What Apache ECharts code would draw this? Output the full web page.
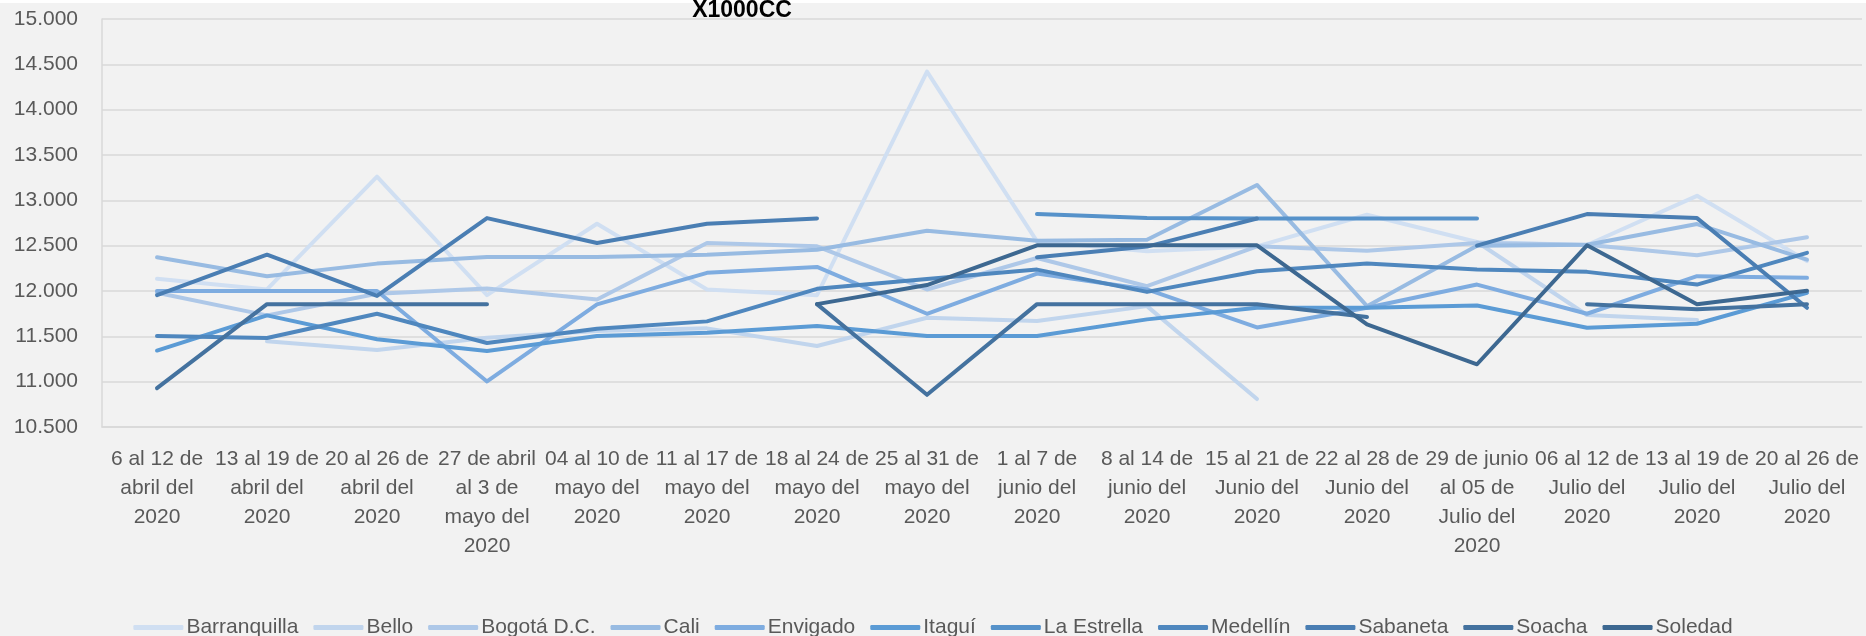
<!DOCTYPE html>
<html>
<head>
<meta charset="utf-8">
<script src="https://cdn.jsdelivr.net/npm/echarts@6/dist/echarts.min.js"></script>
<style>
  html, body { margin: 0; padding: 0; background: #f2f2f2; }
  #chart { width: 1866px; height: 636px; }
</style>
</head>
<body>
<div id="chart"></div>
<script>
// weekly categories (line breaks as in the original labels)
var weeks = [
    '6 al 12 de\nabril del\n2020',
    '13 al 19 de\nabril del\n2020',
    '20 al 26 de\nabril del\n2020',
    '27 de abril\nal 3 de\nmayo del\n2020',
    '04 al 10 de\nmayo del\n2020',
    '11 al 17 de\nmayo del\n2020',
    '18 al 24 de\nmayo del\n2020',
    '25 al 31 de\nmayo del\n2020',
    '1 al 7 de\njunio del\n2020',
    '8 al 14 de\njunio del\n2020',
    '15 al 21 de\nJunio del\n2020',
    '22 al 28 de\nJunio del\n2020',
    '29 de junio\nal 05 de\nJulio del\n2020',
    '06 al 12 de\nJulio del\n2020',
    '13 al 19 de\nJulio del\n2020',
    '20 al 26 de\nJulio del\n2020'
];

var cities = ['Barranquilla', 'Bello', 'Bogotá D.C.', 'Cali', 'Envigado', 'Itaguí',
    'La Estrella', 'Medellín', 'Sabaneta', 'Soacha', 'Soledad'];

var barranquilla = [12134, 12017, 13262, 11954, 12742, 12017, 11954, 14420, 12548, 12438, 12493, 12841, 12540, 12507, 13050, 12330];
var bello        = [null, 11445, 11350, 11485, 11559, 11588, 11394, 11705, 11669, 11833, 10808, null, 12540, 11735, 11680, null];
var bogota       = [11980, 11731, 11969, 12027, 11907, 12529, 12493, 12017, 12364, 12053, 12493, 12445, 12530, 12511, 12394, 12592];
var cali         = [12372, 12163, 12302, 12375, 12375, 12401, 12456, 12665, 12555, 12566, 13170, 11833, 12500, 12511, 12738, 12346];
var envigado     = [12000, 12000, 12000, 11002, 11852, 12200, 12266, 11749, 12192, 12017, 11598, 11815, 12071, 11749, 12163, 12145];
var itagui       = [11343, 11731, 11467, 11339, 11504, 11540, 11613, 11504, 11504, 11687, 11815, 11815, 11840, 11595, 11639, 11980];
var laEstrella   = [null, null, null, null, null, null, null, null, 12848, 12804, 12800, 12800, 12800, null, null, null];
var medellin     = [11504, 11482, 11749, 11427, 11584, 11665, 12024, 12132, 12236, 11990, 12218, 12302, 12236, 12211, 12071, 12420];
var sabaneta     = [11954, 12401, 11945, 12804, 12529, 12742, 12800, null, 12372, 12490, 12800, null, 12500, 12848, 12804, 11815];
var soacha       = [10928, 11855, 11855, 11855, null, null, 11855, 10855, 11855, 11855, 11855, 11713, null, 11855, 11800, 11855];
var soledad      = [null, null, null, null, null, null, 11855, 12066, 12504, 12504, 12504, 11632, 11192, 12504, 11855, 12002];

var allValues = [barranquilla, bello, bogota, cali, envigado, itagui, laEstrella, medellin, sabaneta, soacha, soledad];
var colors = ['#d0dff2', '#c1d5ed', '#aec8e8', '#98bbe2', '#7eace0', '#5b9bd5',
    '#5692ca', '#4f87be', '#4a7eb3', '#44729f', '#3d6891'];

var chart = echarts.init(document.getElementById('chart'));

var series = [];
for (var i = 0; i < cities.length; i++) {
    series.push({
        name: cities[i],
        type: 'line',
        data: allValues[i],
        showSymbol: false,
        connectNulls: false,
        lineStyle: { color: colors[i], width: 4, cap: 'round', join: 'round' },
        itemStyle: { color: colors[i] },
        emphasis: { disabled: true }
    });
}

var font = 'Liberation Sans, Arial, sans-serif';

option = {
    backgroundColor: '#f2f2f2',
    animation: false,
    graphic: [
        { type: 'rect', left: 0, top: 0, shape: { width: 1866, height: 3 }, style: { fill: '#ffffff' } },
        {
            type: 'text', x: 742, y: -1,
            style: { text: 'X1000CC', fill: '#000000', font: 'bold 23px ' + font, textAlign: 'center' }
        }
    ],
    grid: { left: 102, right: 4, top: 19, bottom: 209 },
    legend: {
        data: cities,
        top: 612,
        left: 'center',
        icon: 'roundRect',
        itemWidth: 50,
        itemHeight: 5,
        itemGap: 15,
        textStyle: { color: '#595959', fontSize: 21, fontFamily: font, padding: [0, 0, 0, -2] }
    },
    xAxis: {
        type: 'category',
        data: weeks,
        boundaryGap: true,
        axisLine: { lineStyle: { color: '#d9d9d9', width: 1.5 } },
        axisTick: { alignWithLabel: true, length: 6, lineStyle: { color: '#d9d9d9', width: 1.5 } },
        axisLabel: {
            interval: 0, color: '#595959', fontSize: 21, fontFamily: font,
            lineHeight: 29, margin: 18
        },
        splitLine: { show: false }
    },
    yAxis: {
        type: 'value',
        min: 10500,
        max: 15000,
        interval: 500,
        axisLine: { show: true, lineStyle: { color: '#d9d9d9', width: 1.5 } },
        axisTick: { show: false },
        axisLabel: {
            color: '#595959', fontSize: 21, fontFamily: font, margin: 24,
            formatter: function (v) {
                return String(v).replace(/\B(?=(\d{3})+(?!\d))/g, '.');
            }
        },
        splitLine: { lineStyle: { color: '#d9d9d9', width: 1.5 } }
    },
    series: series
};

chart.setOption(option);
</script>
</body>
</html>
